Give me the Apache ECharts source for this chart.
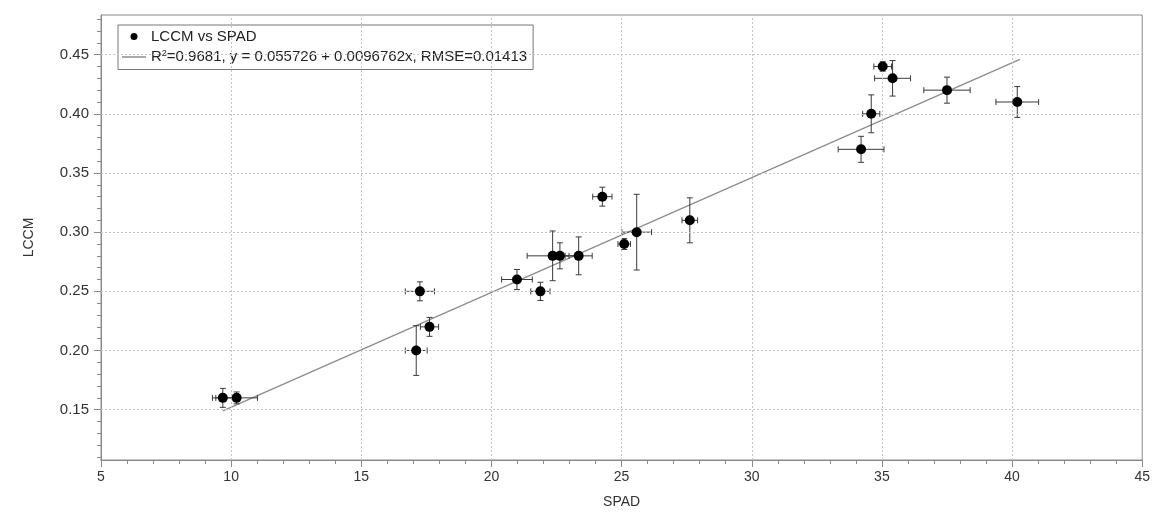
<!DOCTYPE html>
<html>
<head>
<meta charset="utf-8">
<script src="https://cdn.jsdelivr.net/npm/echarts@6/dist/echarts.min.js"></script>
<style>
html,body{margin:0;padding:0;background:#fff;}
#chart{width:1153px;height:514px;}
</style>
</head>
<body>
<div id="chart"></div>
<script>
// ---- data ----
var spad    = [9.68, 10.21, 17.25, 17.62, 17.11, 20.98, 21.88, 22.35, 22.63, 23.35, 24.26, 25.10, 25.58, 27.62, 35.03, 35.41, 37.50, 40.20, 34.59, 34.20];
var lccm    = [0.16, 0.16, 0.25, 0.22, 0.20, 0.26, 0.25, 0.28, 0.28, 0.28, 0.33, 0.29, 0.30, 0.31, 0.44, 0.43, 0.42, 0.41, 0.40, 0.37];
var spadErr = [0.40, 0.80, 0.56, 0.35, 0.42, 0.59, 0.37, 0.98, 0.35, 0.52, 0.37, 0.24, 0.57, 0.30, 0.34, 0.69, 0.89, 0.82, 0.33, 0.88];
var lccmErr = [0.008, 0.005, 0.008, 0.008, 0.021, 0.0085, 0.0077, 0.021, 0.011, 0.016, 0.008, 0.0046, 0.032, 0.019, 0.004, 0.015, 0.011, 0.013, 0.016, 0.011];
var fitX = [9.68, 40.30];
var fitY = [0.149, 0.446];
var xTicks = [10, 15, 20, 25, 30, 35, 40];
var yTicks = [0.15, 0.20, 0.25, 0.30, 0.35, 0.40, 0.45];
var yMinorTicks = [0.11, 0.12, 0.13, 0.14, 0.15, 0.16, 0.17, 0.18, 0.19, 0.20, 0.21, 0.22, 0.23, 0.24, 0.25, 0.26, 0.27, 0.28, 0.29, 0.30,
                   0.31, 0.32, 0.33, 0.34, 0.35, 0.36, 0.37, 0.38, 0.39, 0.40, 0.41, 0.42, 0.43, 0.44, 0.45, 0.46, 0.47, 0.48];
var yRange = [0.1075, 0.4835];
var scatterName = 'LCCM vs SPAD';
var fitName = 'R2=0.9681, y = 0.055726 + 0.0096762x, RMSE=0.01413';

// ---- build ----
var pts = spad.map(function (x, i) { return [x, lccm[i]]; });
var errData = spad.map(function (x, i) { return [x, lccm[i], spadErr[i], lccmErr[i]]; });
var fitData = fitX.map(function (x, i) { return [x, fitY[i]]; });

var chart = echarts.init(document.getElementById('chart'), null, {renderer: 'canvas'});
var font = 'Liberation Sans, Arial, Helvetica, sans-serif';
var gridCol = '#c4c4c4';
var axisCol = '#8a8a8a';
var txtCol = '#333';

var option = {
  animation: false,
  backgroundColor: '#fff',
  textStyle: {fontFamily: font},
  grid: {left: 101, right: 8, top: 15, bottom: 48, show: true, borderColor: axisCol, borderWidth: 1, containLabel: false},
  legend: {
    orient: 'vertical', left: 118, top: 25,
    backgroundColor: '#fff', borderColor: '#777', borderWidth: 1,
    padding: [4, 6, 5, 4], itemGap: 5, itemWidth: 24, itemHeight: 7,
    data: [
      {name: scatterName, icon: 'circle', itemStyle: {color: '#000'}},
      {name: fitName, icon: 'path://M0,0L100,0L100,7L0,7Z', symbolKeepAspect: true, itemStyle: {color: '#999'}}
    ],
    textStyle: {fontSize: 15, color: '#222', fontFamily: font,
      rich: {
        n: {fontSize: 15, color: '#222', fontFamily: font},
        s: {fontSize: 9, color: '#222', fontFamily: font, verticalAlign: 'top', padding: [0, 0, 7, 0]}
      }
    },
    formatter: function (name) {
      if (name === fitName) {
        return '{n|R}{s|2}{n|' + name.slice(2) + '}';
      }
      return '{n|' + name + '}';
    }
  },
  xAxis: {
    type: 'value', min: 5, max: 45, interval: 5,
    name: 'SPAD', nameLocation: 'middle', nameGap: 35,
    nameTextStyle: {fontSize: 14, color: txtCol, fontFamily: font},
    axisLine: {show: true, lineStyle: {color: axisCol}},
    axisTick: {show: true, length: 7, lineStyle: {color: axisCol}},
    minorTick: {show: true, splitNumber: 5, length: 4, lineStyle: {color: axisCol}},
    axisLabel: {fontSize: 14, color: txtCol, margin: 10, fontFamily: font},
    splitLine: {show: false}
  },
  yAxis: [{
    type: 'value', min: yRange[0], max: yRange[1],
    name: 'LCCM', nameLocation: 'middle', nameGap: 65, nameRotate: 90,
    nameTextStyle: {fontSize: 14, color: txtCol, fontFamily: font},
    axisLine: {show: true, lineStyle: {color: axisCol}},
    axisTick: {show: true, length: 4, customValues: yMinorTicks, lineStyle: {color: axisCol}},
    axisLabel: {
      fontSize: 15, color: txtCol, margin: 12, fontFamily: font,
      customValues: yTicks,
      formatter: function (v) { return v.toFixed(2); }
    },
    splitLine: {show: false}
  }, {
    type: 'value', min: yRange[0], max: yRange[1], position: 'left',
    axisLine: {show: false},
    axisTick: {show: true, length: 7, customValues: yTicks, lineStyle: {color: axisCol}},
    axisLabel: {show: false},
    splitLine: {show: false}
  }],
  series: [
    {
      name: 'grid', type: 'line', data: [], silent: true,
      markLine: {
        silent: true, symbol: 'none', label: {show: false},
        lineStyle: {color: gridCol, type: [2, 2], width: 1},
        data: yTicks.map(function (v) { return {yAxis: v}; })
          .concat(xTicks.map(function (v) { return {xAxis: v}; }))
      }
    },
    {
      name: fitName, type: 'line', data: fitData, showSymbol: false, symbol: 'none',
      lineStyle: {color: '#8c8c8c', width: 1.3}, itemStyle: {color: '#8c8c8c'}, z: 3
    },
    {
      name: 'err', type: 'custom', data: errData, z: 4, silent: true,
      renderItem: function (params, api) {
        var x = api.value(0), y = api.value(1), ex = api.value(2), ey = api.value(3);
        var c = api.coord([x, y]);
        var l = api.coord([x - ex, y]), r = api.coord([x + ex, y]);
        var t = api.coord([x, y + ey]), b = api.coord([x, y - ey]);
        var cap = 3;
        var st = {stroke: '#3a3a3a', lineWidth: 1};
        var lines = [
          [l[0], c[1], r[0], c[1]],
          [l[0], c[1] - cap, l[0], c[1] + cap],
          [r[0], c[1] - cap, r[0], c[1] + cap],
          [c[0], t[1], c[0], b[1]],
          [c[0] - cap, t[1], c[0] + cap, t[1]],
          [c[0] - cap, b[1], c[0] + cap, b[1]]
        ];
        return {
          type: 'group',
          children: lines.map(function (p) {
            return {type: 'line', shape: {x1: p[0], y1: p[1], x2: p[2], y2: p[3]}, style: st};
          })
        };
      }
    },
    {
      name: scatterName, type: 'scatter', data: pts, symbol: 'circle', symbolSize: 10,
      itemStyle: {color: '#000', opacity: 1}, z: 5
    }
  ]
};
chart.setOption(option);
</script>
</body>
</html>
